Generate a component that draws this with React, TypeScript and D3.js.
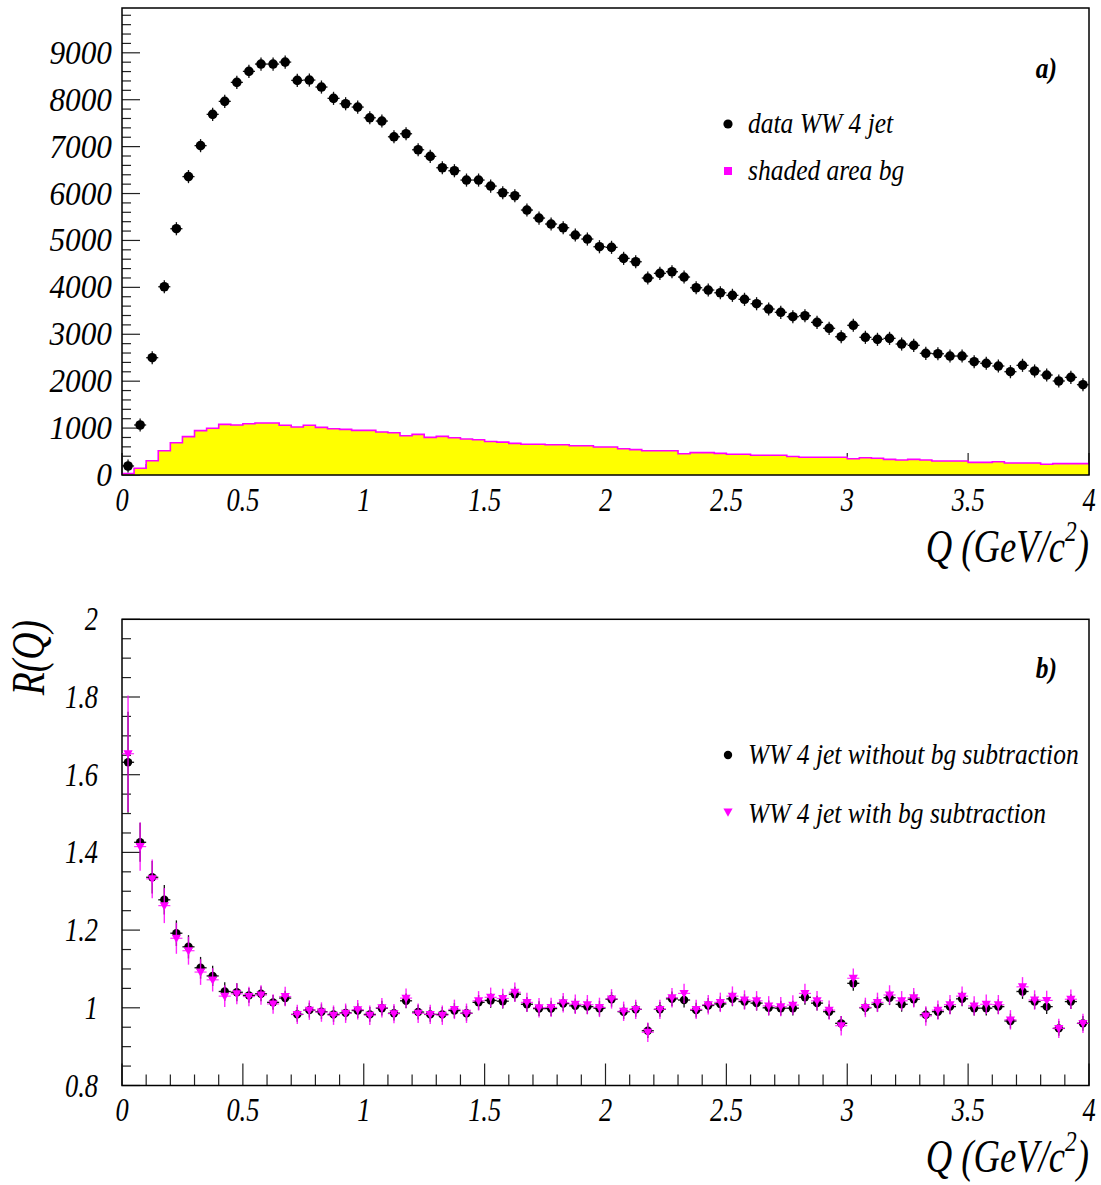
import React from "react";
import * as d3 from "d3";

// ---------- DATA ----------
const binWidth = 0.05;
const nBins = 80;

// Top panel: data WW 4 jet (counts per bin)
const dataWW4jet = [
  192, 1066, 2500, 4013, 5250, 6361, 7021, 7688, 7965, 8370,
  8604, 8760, 8760, 8802, 8412, 8419, 8270, 8029, 7914, 7843,
  7615, 7545, 7210, 7274, 6933, 6792, 6550, 6486, 6287, 6287,
  6159, 6017, 5953, 5648, 5477, 5350, 5271, 5115, 5030, 4866,
  4853, 4618, 4546, 4199, 4299, 4333, 4220, 3992, 3943, 3885,
  3830, 3745, 3651, 3538, 3468, 3374, 3395, 3254, 3127, 2948,
  3191, 2935, 2892, 2913, 2792, 2764, 2594, 2585, 2536, 2536,
  2415, 2381, 2323, 2202, 2338, 2217, 2131, 2004, 2082, 1925,
];

// Top panel: shaded area background histogram
const bgShaded = [
  30, 143, 305, 518, 689, 817, 945, 995, 1080, 1066,
  1094, 1108, 1108, 1059, 1023, 1059, 1016, 987, 973, 952,
  952, 916, 902, 838, 867, 803, 824, 795, 767, 753,
  715, 700, 675, 654, 654, 646, 646, 625, 625, 597,
  597, 561, 540, 518, 518, 518, 454, 476, 476, 462,
  441, 441, 420, 420, 420, 395, 377, 377, 377, 377,
  348, 369, 356, 334, 320, 334, 320, 298, 298, 298,
  270, 270, 284, 256, 256, 256, 228, 242, 242, 242,
];
const topErr = 140;

// Bottom panel: R(Q) without bg subtraction
const rNoSub = [
  1.632, 1.426, 1.336, 1.278, 1.192, 1.157, 1.103, 1.082, 1.042, 1.040,
  1.032, 1.036, 1.014, 1.025, 0.983, 0.994, 0.990, 0.983, 0.987, 0.993,
  0.983, 0.999, 0.986, 1.018, 0.989, 0.983, 0.983, 0.993, 0.986, 1.014,
  1.019, 1.017, 1.035, 1.009, 0.998, 0.998, 1.011, 1.005, 1.003, 0.999,
  1.022, 0.990, 0.996, 0.941, 0.996, 1.023, 1.020, 0.994, 1.006, 1.010,
  1.023, 1.016, 1.012, 1.000, 0.999, 0.999, 1.027, 1.012, 0.990, 0.960,
  1.063, 1.000, 1.009, 1.026, 1.009, 1.022, 0.982, 0.990, 1.003, 1.023,
  0.999, 0.999, 1.003, 0.966, 1.042, 1.016, 1.003, 0.947, 1.016, 0.960,
];
// Bottom panel: R(Q) with bg subtraction
const rSub = [
  1.654, 1.415, 1.332, 1.263, 1.179, 1.147, 1.092, 1.072, 1.030, 1.036,
  1.029, 1.033, 1.010, 1.029, 0.983, 0.994, 0.989, 0.981, 0.986, 0.995,
  0.981, 1.000, 0.985, 1.025, 0.986, 0.983, 0.981, 0.996, 0.986, 1.018,
  1.027, 1.024, 1.040, 1.014, 1.000, 1.001, 1.013, 1.009, 1.008, 1.001,
  1.023, 0.991, 0.996, 0.937, 0.996, 1.026, 1.037, 0.996, 1.008, 1.014,
  1.030, 1.020, 1.018, 1.005, 1.003, 1.007, 1.037, 1.018, 0.994, 0.954,
  1.076, 1.001, 1.014, 1.033, 1.018, 1.026, 0.979, 0.994, 1.008, 1.030,
  1.005, 1.009, 1.008, 0.969, 1.054, 1.020, 1.019, 0.947, 1.022, 0.960,
];
const errNoSubHead = [0.13, 0.05, 0.042, 0.038, 0.033, 0.03, 0.028, 0.026, 0.024, 0.023];
const errNoSubTail = 0.019;
const errSubHead = [0.15, 0.062, 0.05, 0.045, 0.04, 0.036, 0.033, 0.03, 0.028, 0.027];
const errSubTail = 0.025;

const xTickLabels = ["0", "0.5", "1", "1.5", "2", "2.5", "3", "3.5", "4"];
const topYTickLabels = ["0", "1000", "2000", "3000", "4000", "5000", "6000", "7000", "8000", "9000"];
const botYTickLabels = ["0.8", "1", "1.2", "1.4", "1.6", "1.8", "2"];

const topLegend = ["data WW 4 jet", "shaded area bg"];
const botLegend = ["WW 4 jet without bg subtraction", "WW 4 jet with bg subtraction"];

// ---------- LAYOUT ----------
const W = 1101;
const H = 1185;
const X0 = 122;
const X1 = 1089;
const FONT = "'Liberation Serif', 'Times New Roman', serif";
const SX = 0.85;
const MAG = "#ff00ff";

const x = d3.scaleLinear().domain([0, 4]).range([X0, X1]);
const yTop = d3.scaleLinear().domain([0, 9955]).range([475, 8]);
const yBot = d3.scaleLinear().domain([0.8, 2.0]).range([1085.5, 619.3]);

const binCenters = d3.range(nBins).map((i) => (i + 0.5) * binWidth);

function T({ x: tx, y: ty, size, anchor = "start", weight = "normal", children, rotate = 0, sx = SX }: any) {
  return (
    <text
      transform={`translate(${tx},${ty}) rotate(${rotate}) scale(${sx},1)`}
      fontFamily={FONT}
      fontStyle="italic"
      fontWeight={weight}
      fontSize={size}
      textAnchor={anchor}
      fill="#000"
    >
      {children}
    </text>
  );
}

function XAxis({ yBase, labelY, titleY }: any) {
  const major = d3.range(0, 4.0001, 0.5);
  const minor = d3.range(0, 4.0001, 0.1).filter((v) => Math.abs(v * 2 - Math.round(v * 2)) > 1e-6);
  return (
    <g>
      {minor.map((v) => (
        <line key={"mn" + v} x1={x(v)} x2={x(v)} y1={yBase} y2={yBase - 11} stroke="#222" strokeWidth={1.2} />
      ))}
      {major.map((v) => (
        <line key={"mj" + v} x1={x(v)} x2={x(v)} y1={yBase} y2={yBase - 22} stroke="#222" strokeWidth={1.2} />
      ))}
      {major.map((v, i) => (
        <T key={"lb" + v} x={x(v)} y={labelY} size={33} anchor="middle" sx={0.8}>
          {xTickLabels[i]}
        </T>
      ))}
      <text
        transform={`translate(${X1},${titleY}) scale(0.78,1)`}
        fontFamily={FONT}
        fontStyle="italic"
        fontSize={47}
        textAnchor="end"
      >
        Q (GeV/c
        <tspan fontSize={30} dy={-21}>2</tspan>
        <tspan dy={21}>)</tspan>
      </text>
    </g>
  );
}

export default function App() {
  const yTopMajor = d3.range(0, 9001, 1000);
  const yTopMinor = d3.range(0, 9955, 200).filter((v) => v % 1000 !== 0);
  const yBotMajor = d3.range(0, 7).map((i) => 0.8 + i * 0.2);
  const yBotMinor = d3.range(0, 25).map((i) => 0.8 + i * 0.05).filter((_, i) => i % 4 !== 0);

  const stepPts = bgShaded.map((v, i) => [i * binWidth, v] as [number, number]);
  stepPts.push([4, bgShaded[nBins - 1]]);
  const area = d3
    .area<[number, number]>()
    .x((d) => x(d[0]))
    .y0(yTop(0))
    .y1((d) => yTop(d[1]))
    .curve(d3.curveStepAfter);
  const line = d3
    .line<[number, number]>()
    .x((d) => x(d[0]))
    .y((d) => yTop(d[1]))
    .curve(d3.curveStepAfter);
  const outline = line([[0, 0], [0, bgShaded[0]], ...stepPts]);

  const hw = binWidth / 2;
  const tri = (cx: number, cy: number, s = 4.6) =>
    `M${cx - s},${cy - s * 0.75}L${cx + s},${cy - s * 0.75}L${cx},${cy + s * 1.05}Z`;

  return (
    <svg width={W} height={H} style={{ position: "absolute", left: 0, top: 0, background: "#fff" }}>
      <rect x={0} y={0} width={W} height={H} fill="#fff" />

      {/* ================= TOP PANEL ================= */}
      <g>
        {yTopMinor.map((v) => (
          <line key={"tmn" + v} x1={X0} x2={X0 + 9} y1={yTop(v)} y2={yTop(v)} stroke="#222" strokeWidth={1.2} />
        ))}
        {yTopMajor.map((v) => (
          <line key={"tmj" + v} x1={X0} x2={X0 + 18} y1={yTop(v)} y2={yTop(v)} stroke="#222" strokeWidth={1.2} />
        ))}
        {yTopMajor.map((v, i) => (
          <T key={"tl" + v} x={112} y={yTop(v) + 11} size={34} anchor="end" sx={0.92}>
            {topYTickLabels[i]}
          </T>
        ))}
        <XAxis yBase={475} labelY={511} titleY={562} />

        {/* background histogram */}
        <path d={area(stepPts) || ""} fill="#ffff00" stroke="none" />
        <path d={outline || ""} fill="none" stroke={MAG} strokeWidth={1.6} />

        {/* frame */}
        <rect x={X0} y={8} width={X1 - X0} height={475 - 8} fill="none" stroke="#000" strokeWidth={1.5} />

        {/* data points */}
        {dataWW4jet.map((v, i) => {
          const cx = x(binCenters[i]);
          const cy = yTop(v);
          return (
            <g key={"dp" + i}>
              <line x1={x(binCenters[i] - hw)} x2={x(binCenters[i] + hw)} y1={cy} y2={cy} stroke="#111" strokeWidth={1.3} />
              <line x1={cx} x2={cx} y1={yTop(v - topErr)} y2={yTop(v + topErr)} stroke="#111" strokeWidth={1.3} />
              <circle cx={cx} cy={cy} r={4.8} fill="#000" />
            </g>
          );
        })}

        {/* legend */}
        <circle cx={728} cy={124} r={4.6} fill="#000" />
        <T x={748} y={133} size={30}>{topLegend[0]}</T>
        <rect x={724} y={167} width={8} height={8} fill={MAG} />
        <T x={748} y={180} size={30}>{topLegend[1]}</T>
        <T x={1057} y={78} size={30} anchor="end" weight="bold">a)</T>
      </g>

      {/* ================= BOTTOM PANEL ================= */}
      <g>
        {yBotMinor.map((v) => (
          <line key={"bmn" + v} x1={X0} x2={X0 + 9} y1={yBot(v)} y2={yBot(v)} stroke="#222" strokeWidth={1.2} />
        ))}
        {yBotMajor.map((v) => (
          <line key={"bmj" + v} x1={X0} x2={X0 + 18} y1={yBot(v)} y2={yBot(v)} stroke="#222" strokeWidth={1.2} />
        ))}
        {yBotMajor.map((v, i) => (
          <T key={"bl" + i} x={98} y={yBot(v) + 11} size={33} anchor="end" sx={0.8}>
            {botYTickLabels[i]}
          </T>
        ))}
        <XAxis yBase={1085.5} labelY={1121} titleY={1172} />
        <rect x={X0} y={619.3} width={X1 - X0} height={1085.5 - 619.3} fill="none" stroke="#000" strokeWidth={1.5} />

        <T x={44} y={620} size={47} anchor="end" rotate={-90} sx={0.8}>R(Q)</T>

        {/* without bg subtraction */}
        {rNoSub.map((v, i) => {
          const cx = x(binCenters[i]);
          const cy = yBot(v);
          const e = i < errNoSubHead.length ? errNoSubHead[i] : errNoSubTail;
          return (
            <g key={"ns" + i}>
              <line x1={x(binCenters[i] - hw)} x2={x(binCenters[i] + hw)} y1={cy} y2={cy} stroke="#111" strokeWidth={1.3} />
              <line x1={cx} x2={cx} y1={yBot(v - e)} y2={yBot(v + e)} stroke="#111" strokeWidth={1.3} />
              <circle cx={cx} cy={cy} r={4.2} fill="#000" />
            </g>
          );
        })}
        {/* with bg subtraction */}
        {rSub.map((v, i) => {
          const cx = x(binCenters[i]);
          const cy = yBot(v);
          const e = i < errSubHead.length ? errSubHead[i] : errSubTail;
          return (
            <g key={"ws" + i}>
              <line x1={x(binCenters[i] - hw)} x2={x(binCenters[i] + hw)} y1={cy} y2={cy} stroke={MAG} strokeWidth={1.2} opacity={0.8} />
              <line x1={cx} x2={cx} y1={yBot(v - e)} y2={yBot(v + e)} stroke={MAG} strokeWidth={1.4} opacity={0.85} />
              <path d={tri(cx, cy)} fill={MAG} />
            </g>
          );
        })}

        {/* legend */}
        <circle cx={728} cy={755} r={4.2} fill="#000" />
        <T x={748} y={764} size={30}>{botLegend[0]}</T>
        <path d={tri(728, 812)} fill={MAG} />
        <T x={748} y={823} size={30}>{botLegend[1]}</T>
        <T x={1057} y={678} size={30} anchor="end" weight="bold">b)</T>
      </g>
    </svg>
  );
}
